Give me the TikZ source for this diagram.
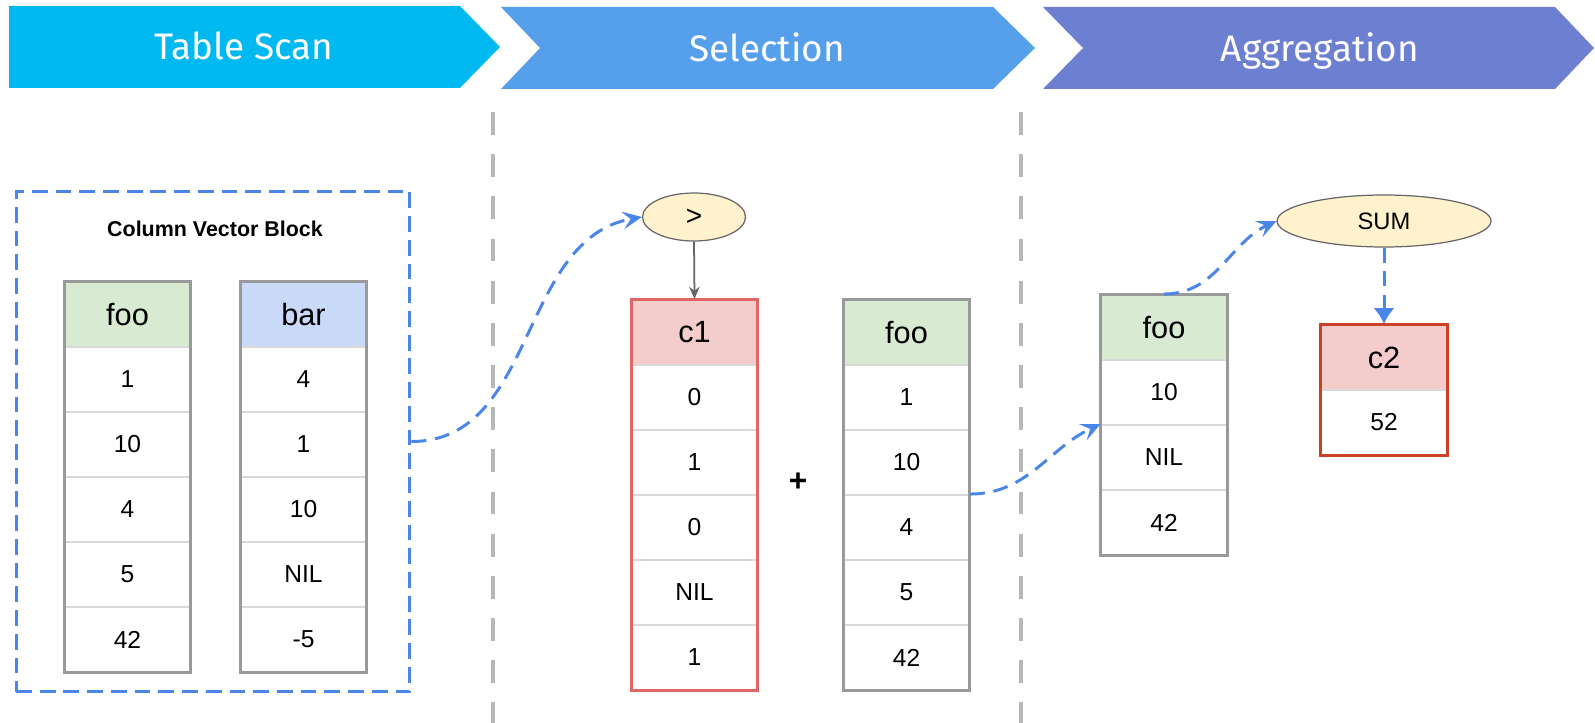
\documentclass[tikz,border=0pt]{standalone}
\usepackage{fontspec}
\setmainfont{Liberation Sans}
\newfontfamily\bannerfont{Fira Sans}
\usetikzlibrary{arrows.meta,shapes.geometric,positioning}
\definecolor{scancolor}{HTML}{00B9F1}
\definecolor{selectcolor}{HTML}{559FEB}
\definecolor{aggcolor}{HTML}{6D7FD0}
\definecolor{flowblue}{HTML}{4A86E8}
\definecolor{framegray}{HTML}{999999}
\definecolor{rulegray}{HTML}{D9D9D9}
\definecolor{divgray}{HTML}{B7B7B7}
\definecolor{headgreen}{HTML}{D9EAD3}
\definecolor{headblue}{HTML}{C9DAF8}
\definecolor{headred}{HTML}{F4CCCC}
\definecolor{framered}{HTML}{E06666}
\definecolor{framedarkred}{HTML}{CC4125}
\definecolor{opfill}{HTML}{FFF2CC}
\definecolor{opdraw}{HTML}{666666}
\begin{document}
\begin{tikzpicture}
[x=0.02cm, y=-0.02cm,
  celldecorate/.style={shape=rectangle,draw=rulegray,line width=1.1pt,
    minimum width=2.5cm,minimum height=1.3cm,inner sep=0pt,
    font=\fontsize{14}{16}\selectfont},%
  headdecorate/.style={celldecorate,font=\fontsize{17.5}{20}\selectfont},%
  framedecorate/.style={line width=1.7pt},%
  bannerdecorate/.style={text=white,anchor=base,
    font=\bannerfont\fontsize{21}{24}\selectfont},%
  opdecorate/.style={shape=ellipse,draw=opdraw,fill=opfill,line width=0.7pt,
    inner sep=0pt},%
  flowdecorate/.style={flowblue,line width=1.7pt,dash pattern=on 8.5pt off 5pt,
    -{Stealth[length=11pt,width=10pt,inset=4.5pt]}},%
  dividerdecorate/.style={divgray,line width=2.3pt,dash pattern=on 13pt off 11pt}]
\useasboundingbox (0,0) rectangle (1595,723);
%% banners
\fill[scancolor] (9,6) -- (460,6) -- (500,47) -- (460,88) -- (9,88) -- cycle;
\fill[selectcolor] (501,7) -- (993,7) -- (1035,48) -- (993,89) -- (501,89)
  -- (540,48) -- cycle;
\fill[aggcolor] (1043,7) -- (1555,7) -- (1594,48) -- (1555,89) -- (1043,89)
  -- (1083,48) -- cycle;
\foreach \nodename/\x/\y/\txt in {scan/244/60/Table Scan,
  select/767/62/Selection, agg/1320/62/Aggregation}
{
  \node[bannerdecorate] (\nodename) at (\x,\y) {\txt};
}
%% dividers
\foreach \nodename/\x in {diva/493, divb/1021}
{
  \coordinate (\nodename top) at (\x,112);
  \coordinate (\nodename bot) at (\x,723);
  \draw[dividerdecorate] (\nodename top) -- (\nodename bot);
}
%% column vector block
\node (block) at (213,441.5) [draw=flowblue,line width=1.7pt,
  dash pattern=on 9pt off 4.5pt,minimum width=7.88cm,minimum height=10.02cm] {};
\node (blocktitle) at (215,229) [font=\bfseries\fontsize{12.2}{14}\selectfont]
  {Column Vector Block};
%% tables
\foreach \nodename/\x/\y/\headfill/\framecol/\head/\last/\vals in {
  scanfoo/127.5/282/headgreen/framegray/foo/5/{1,10,4,5,42},
  scanbar/303.5/282/headblue/framegray/bar/5/{4,1,10,NIL,-5},
  selc/694.5/300/headred/framered/c1/5/{0,1,0,NIL,1},
  selfoo/906.5/300/headgreen/framegray/foo/5/{1,10,4,5,42},
  aggfoo/1164/295/headgreen/framegray/foo/3/{10,NIL,42},
  aggc/1384/325/headred/framedarkred/c2/1/{52}}
{
  \node[headdecorate,fill=\headfill] (\nodename0) at (\x,\y+32.5) {\head};
  \foreach \v [count=\i] in \vals
  {
    \node[celldecorate] (\nodename\i) at (\x,\y+32.5+65*\i) {\v};
  }
  \draw[framedecorate,draw=\framecol] (\nodename0.north west)
    rectangle (\nodename\last.south east);
}
\node (plus) at (798,482) [font=\bfseries\fontsize{18}{20}\selectfont] {+};
%% operators
\node (gt) at (694,217) [opdecorate,minimum width=2.06cm,minimum height=0.96cm,
  font=\fontsize{16}{18}\selectfont] {\textgreater};
\node (sum) at (1384,221) [opdecorate,minimum width=4.28cm,minimum height=1.04cm,
  font=\fontsize{13.5}{15}\selectfont] {SUM};
%% edges
\draw[flowdecorate] (block.east) to[out=0,in=190] (gt.west);
\draw[opdraw,line width=1pt,-{Stealth[length=7pt,width=6pt]}] (gt.south)
  -- (selc0.north);
\draw[flowdecorate] (selfoo3.north east) to[out=0,in=205] (aggfoo2.north west);
\draw[flowdecorate] (aggfoo0.north) to[out=0,in=205] (sum.west);
\draw[flowdecorate,-{Latex[length=9pt,width=12pt]}] (sum.south)
  -- (aggc0.north);
\end{tikzpicture}
\end{document}
